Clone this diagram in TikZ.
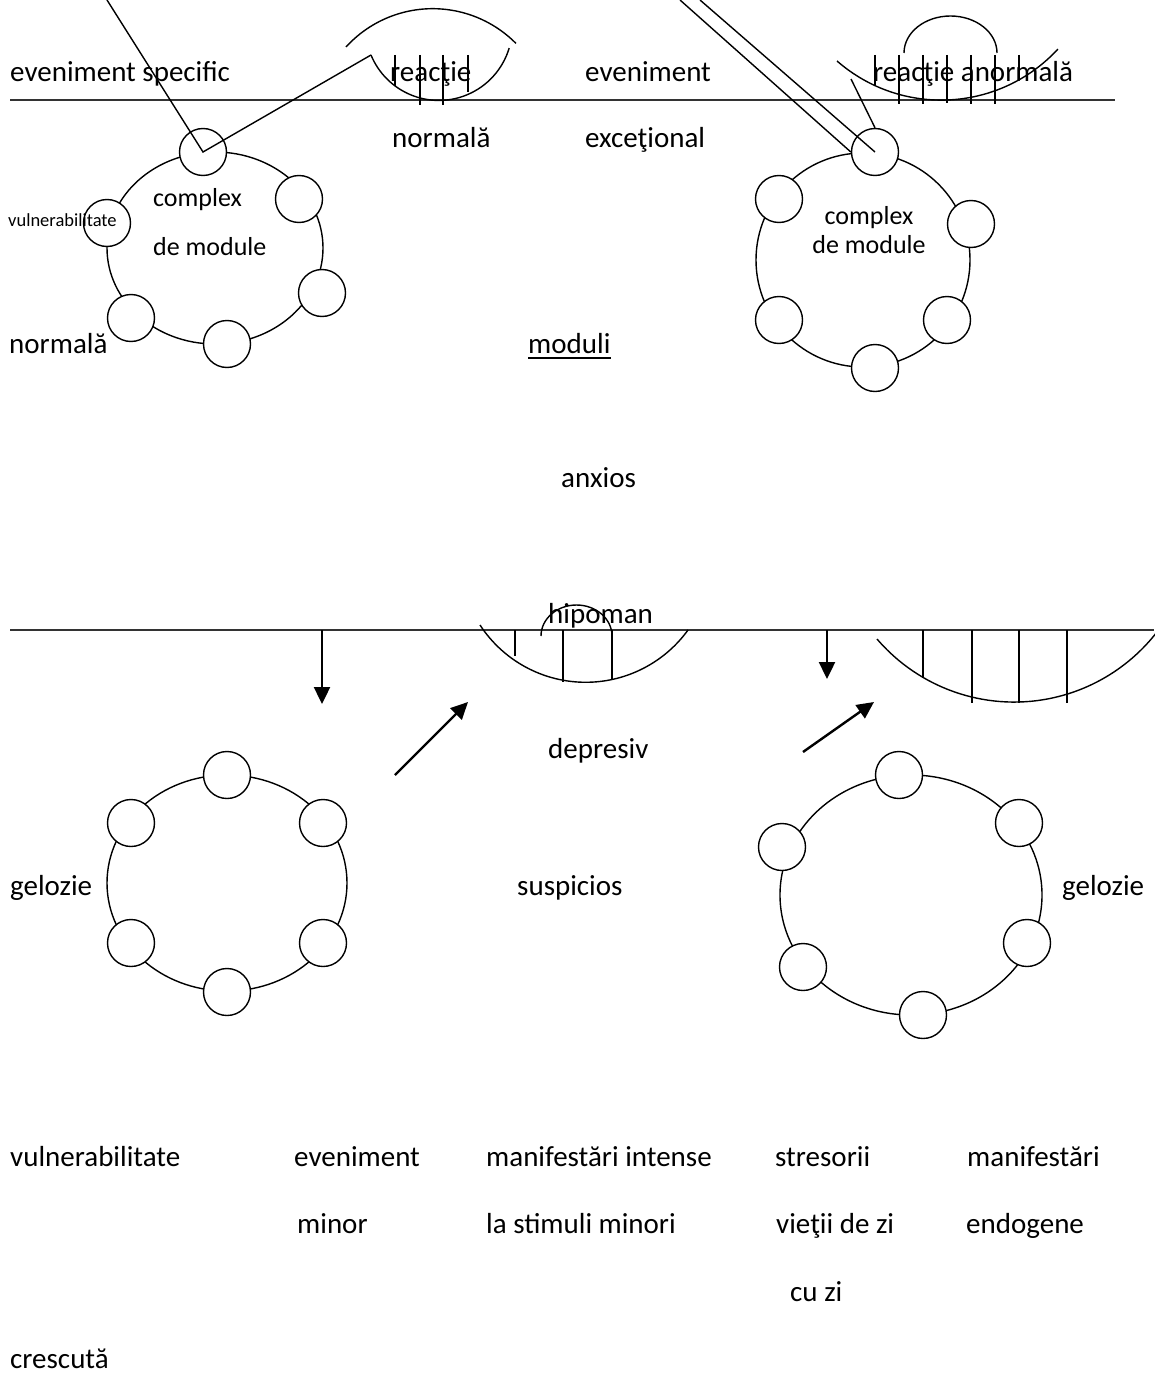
\documentclass[tikz,border=0pt]{standalone}
\usepackage{fontspec}
\setmainfont{Carlito}
\usetikzlibrary{arrows.meta,calc}
\begin{document}
\begin{tikzpicture}[x=1pt,y=-1pt,
  lbl/.style={anchor=base west, inner sep=0pt, font=\fontsize{29}{34}\selectfont},
  rtxt/.style={anchor=base west, inner sep=0pt, font=\fontsize{26}{31}\selectfont},
  smalltxt/.style={anchor=base west, inner sep=0pt, font=\fontsize{18.5}{22}\selectfont},
  mod/.style={circle, draw, fill=white, minimum size=47pt, inner sep=0pt, line width=1.4pt},
  ln/.style={line width=1.4pt},
  baseln/.style={line width=2.2pt, draw=black!80},
  arr/.style={line width=2.4pt, -{Triangle[length=17pt,width=16pt]}},
]
\useasboundingbox (0,0) rectangle (1154,1375);

% ---------- base lines ----------
\coordinate (L1a) at (10,100);  \coordinate (L1b) at (1115,100);
\coordinate (L2a) at (10,630);  \coordinate (L2b) at (1154,630);
\draw[baseln] (L1a) -- (L1b);
\draw[baseln] (L2a) -- (L2b);

% ---------- rings ----------
\coordinate (RA) at (215,248);
\coordinate (RB) at (863,260);
\coordinate (RC) at (227,883);
\coordinate (RD) at (911,895);
\draw[ln] (RA) ellipse[x radius=108, y radius=96];
\draw[ln] (RB) ellipse[x radius=107, y radius=107];
\draw[ln] (RC) ellipse[x radius=120, y radius=108];
\draw[ln] (RD) ellipse[x radius=131, y radius=120];

% top-left ring modules
\coordinate (A1) at (203,152); \coordinate (A2) at (299,199); \coordinate (A3) at (322,293);
\coordinate (A4) at (227,344); \coordinate (A5) at (131,318); \coordinate (A6) at (107,223);
\foreach \i in {1,...,6} \node[mod] (a\i) at (A\i) {};
% top-right ring modules
\coordinate (B1) at (875,152); \coordinate (B2) at (971,224); \coordinate (B3) at (947,320);
\coordinate (B4) at (875,368); \coordinate (B5) at (779,320); \coordinate (B6) at (779,199);
\foreach \i in {1,...,6} \node[mod] (b\i) at (B\i) {};
% bottom-left ring modules
\coordinate (C1) at (227,775); \coordinate (C2) at (323,823); \coordinate (C3) at (323,943);
\coordinate (C4) at (227,992); \coordinate (C5) at (131,943); \coordinate (C6) at (131,823);
\foreach \i in {1,...,6} \node[mod] (c\i) at (C\i) {};
% bottom-right ring modules
\coordinate (D1) at (899,775); \coordinate (D2) at (1019,823); \coordinate (D3) at (1027,943);
\coordinate (D4) at (923,1015); \coordinate (D5) at (803,967); \coordinate (D6) at (782,847);
\foreach \i in {1,...,6} \node[mod] (d\i) at (D\i) {};

% ---------- top-left event & normal reaction ----------
\coordinate (tlin) at (107,0);
\coordinate (tlarm) at (371,55);
\draw[ln] (tlin) -- (a1.center) -- (tlarm);
\draw[ln] (tlarm) arc[start angle=157.6, end angle=16.7, radius=73.4];
\draw[ln] (346,47) arc[start angle=222.3, end angle=315.3, radius=117.2];
\foreach \x/\yb in {395/86, 420/105, 443/105, 468/92}
  \draw[ln] (\x,55) -- (\x,\yb);

% ---------- top-right event & abnormal reaction ----------
\coordinate (p1) at (680,0);
\coordinate (p2) at (700,0);
\coordinate (stub) at (851,79);
\draw[ln] (p1) -- (b1.west);
\draw[ln] (p2) -- (b1.center);
\draw[ln] (b1.north) -- (stub);
\draw[ln] (904,53) arc[start angle=180, end angle=360, x radius=46.5, y radius=37];
\draw[ln] (837,61) arc[start angle=131.1, end angle=42.7, radius=158.7];
\foreach \x/\yb in {875/85, 899/104, 923/104, 947/103, 971/104, 995/104, 1019/80}
  \draw[ln] (\x,55) -- (\x,\yb);

% ---------- middle reactions ----------
\draw[ln] (480,625) arc[start angle=146.9, end angle=35.8, radius=126.2];
\draw[ln] (541,636) arc[start angle=180, end angle=360, x radius=35.5, y radius=31];
\foreach \x/\yb in {515/656, 563/682, 612/679}
  \draw[ln] (\x,630) -- (\x,\yb);
\draw[ln] (877,639) arc[start angle=139.4, end angle=36.1, radius=180.6];
\foreach \x/\yb in {923/677, 972/703, 1019/703, 1067/703}
  \draw[ln] (\x,630) -- (\x,\yb);

% ---------- arrows ----------
\coordinate (ar1s) at (322,630); \coordinate (ar1e) at (322,704);
\coordinate (ar2s) at (395,775); \coordinate (ar2e) at (468,702);
\coordinate (ar3s) at (827,630); \coordinate (ar3e) at (827,679);
\coordinate (ar4s) at (803,752); \coordinate (ar4e) at (874,702);
\draw[arr] (ar1s) -- (ar1e);
\draw[arr] (ar2s) -- (ar2e);
\draw[arr] (ar3s) -- (ar3e);
\draw[arr] (ar4s) -- (ar4e);

% ---------- texts ----------
\node[lbl] (t1) at (10,82) {eveniment specific};
\node[lbl] (t2) at (390,82) {reacţie};
\node[lbl] (t3) at (585,82) {eveniment};
\node[lbl] (t4) at (873,82) {reacţie anormală};
\node[lbl] (t5) at (392,148) {normală};
\node[lbl] (t6) at (585,148) {exceţional};
\node[rtxt] (t7) at (153,206) {complex};
\node[rtxt] (t8) at (153,255) {de module};
\node[rtxt, anchor=base] (t9) at (869,224) {complex};
\node[rtxt, anchor=base] (t10) at (869,253) {de module};
\node[smalltxt] (t11) at (8,226) {vulnerabilitate};
\node[lbl] (t12) at (9,353) {normală};
\node[lbl] (t13) at (528,353) {moduli};
\draw[line width=1.8pt] ([yshift=-5pt]t13.base west) -- ([yshift=-5pt]t13.base east);
\node[lbl] (t14) at (561,487) {anxios};
\node[lbl] (t15) at (548,623) {hipoman};
\node[lbl] (t16) at (548,758) {depresiv};
\node[lbl] (t17) at (10,895) {gelozie};
\node[lbl] (t18) at (517,895) {suspicios};
\node[lbl] (t19) at (1062,895) {gelozie};
\node[lbl] (t20) at (10,1166) {vulnerabilitate};
\node[lbl] (t21) at (294,1166) {eveniment};
\node[lbl] (t22) at (486,1166) {manifestări intense};
\node[lbl] (t23) at (775,1166) {stresorii};
\node[lbl] (t24) at (967,1166) {manifestări};
\node[lbl] (t25) at (297,1233) {minor};
\node[lbl] (t26) at (486,1233) {la stimuli minori};
\node[lbl] (t27) at (776,1233) {vieţii de zi};
\node[lbl] (t28) at (966,1233) {endogene};
\node[lbl] (t29) at (790,1301) {cu zi};
\node[lbl] (t30) at (10,1368) {crescută};
\end{tikzpicture}
\end{document}
